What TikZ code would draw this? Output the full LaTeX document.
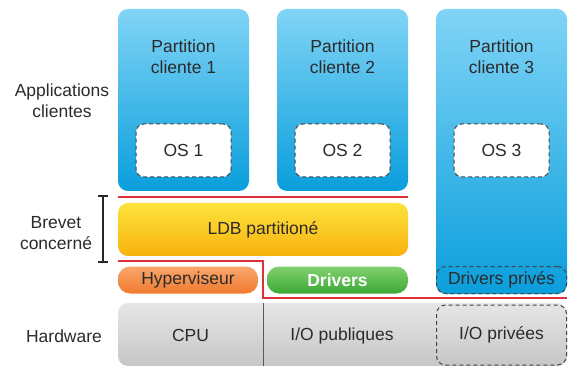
\documentclass[tikz,border=0pt]{standalone}
\usepackage{fontspec}
\setmainfont{Liberation Sans}
\begin{document}
\begin{tikzpicture}[x=1pt,y=-1pt,
  every node/.style={text=txtc, font=\fontsize{17.5}{20.7}\selectfont, inner sep=0pt},
  part/.style={rounded corners=10pt, top color=bluetop, bottom color=bluebot, draw=none},
  osbox/.style={rounded corners=8pt, fill=white, draw=dashc, line width=1pt, dash pattern=on 4pt off 3pt, minimum width=95pt, minimum height=53pt},
  privbox/.style={rounded corners=9pt, draw=dashc, line width=1pt, dash pattern=on 4pt off 3pt},
  redline/.style={draw=redc, line width=1.6pt},
  lbl/.style={align=center}
]
\definecolor{txtc}{HTML}{2B2B2B}
\definecolor{bluetop}{HTML}{80D4F6}
\definecolor{bluebot}{HTML}{0A9EDC}
\definecolor{yeltop}{HTML}{FDE23C}
\definecolor{yelbot}{HTML}{F8B20E}
\definecolor{ortop}{HTML}{FAA66C}
\definecolor{orbot}{HTML}{EF7A2E}
\definecolor{grtop}{HTML}{82D06E}
\definecolor{grbot}{HTML}{3BA935}
\definecolor{graytop}{HTML}{E6E6E6}
\definecolor{graybot}{HTML}{C6C6C6}
\definecolor{dashc}{HTML}{444444}
\definecolor{redc}{HTML}{E0303A}
\useasboundingbox (0,0) rectangle (573,366);
\clip (0,0) rectangle (573,366);

% partitions
\node[part, minimum width=131pt, minimum height=182pt] (p1) at (183.5,100) {};
\node[part, minimum width=131pt, minimum height=182pt] (p2) at (342.5,100) {};
\node[part, minimum width=131pt, minimum height=285pt] (p3) at (501.5,151.5) {};
\node[lbl] (p1t) at (183.5,56.5) {Partition\\cliente 1};
\node[lbl] (p2t) at (342.5,56.5) {Partition\\cliente 2};
\node[lbl] (p3t) at (501.5,56.5) {Partition\\cliente 3};
\node[osbox] (os1) at (183.5,150.5) {OS 1};
\node[osbox] (os2) at (342.5,150.5) {OS 2};
\node[osbox] (os3) at (501.5,150.5) {OS 3};

% left labels
\node[lbl] (apps) at (62,100.5) {Applications\\clientes};
\node[lbl] (brev) at (56,233) {Brevet\\concerné};
\node (hw) at (64,336) {Hardware};

% bracket
\coordinate (bt) at (103,196);
\coordinate (bb) at (103,262);
\draw[line width=1.6pt, black!85] (bt) -- (bb);
\draw[line width=1.6pt, black!85] ([xshift=-5pt]bt) -- ([xshift=5pt]bt);
\draw[line width=1.6pt, black!85] ([xshift=-5pt]bb) -- ([xshift=5pt]bb);

% red lines
\coordinate (r1a) at (118,197);
\coordinate (r1b) at (408,197);
\draw[redline] (r1a) -- (r1b);
\coordinate (r2a) at (118,261);
\coordinate (r2b) at (263,261);
\coordinate (r2c) at (263,298);
\coordinate (r2d) at (567,298);
\draw[redline] (r2a) -- (r2b) -- (r2c) -- (r2d);

% LDB
\node[rounded corners=10pt, top color=yeltop, bottom color=yelbot, minimum width=290pt, minimum height=53pt] (ldb) at (263,229.5) {LDB partitioné};

% hyperviseur / drivers
\node[rounded corners=12pt, top color=ortop, bottom color=orbot, minimum width=140pt, minimum height=27pt] (hyp) at (188,280) {Hyperviseur};
\node[rounded corners=12pt, top color=grtop, bottom color=grbot, minimum width=141pt, minimum height=27pt, text=white, font=\fontsize{17.5}{20.7}\selectfont\bfseries] (drv) at (337.5,280) {Drivers};
\node[privbox, minimum width=130pt, minimum height=27pt] (drvp) at (501.5,280) {Drivers privés};

% hardware
\node[rounded corners=10pt, top color=graytop, bottom color=graybot, minimum width=449pt, minimum height=63pt] (hwbox) at (342.5,334.5) {};
\coordinate (dv1) at (263,303);
\coordinate (dv2) at (263,366);
\draw[line width=1pt, black!65] (dv1) -- (dv2);
\node (cpu) at (190.5,335.5) {CPU};
\node (iopub) at (342,335.5) {I/O publiques};
\node[privbox, minimum width=130pt, minimum height=60pt] (iopriv) at (501.5,335) {I/O privées};
\end{tikzpicture}
\end{document}
